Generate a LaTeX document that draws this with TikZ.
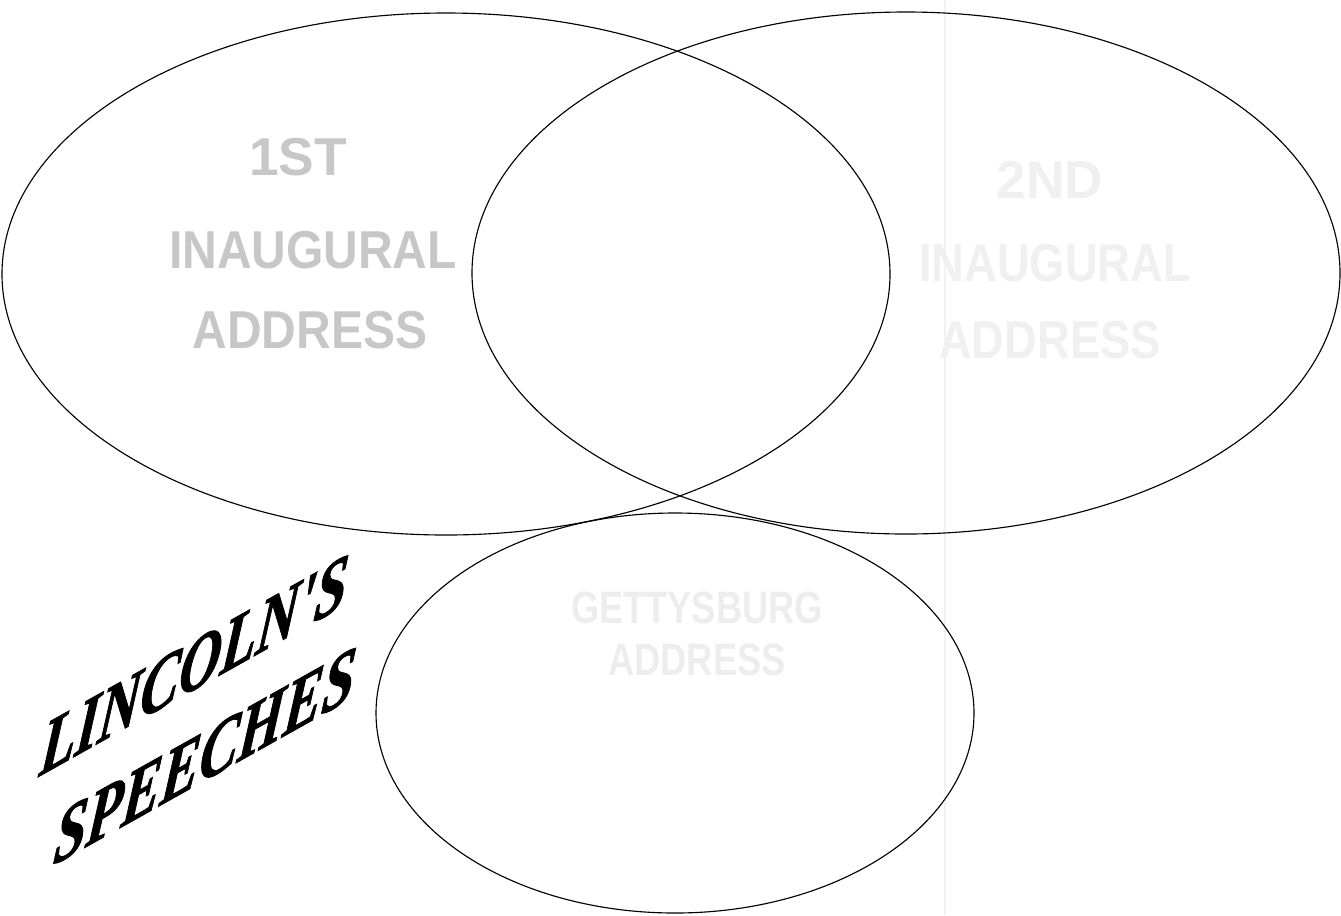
\documentclass[tikz,border=0pt]{standalone}
\usepackage{fontspec}
\setmainfont{Liberation Serif}
\newfontfamily\ghostfont{Liberation Sans}
\newfontfamily\titlefont{Liberation Serif}[BoldItalicFeatures={FakeBold=1.3}]
\begin{document}
\begin{tikzpicture}[x=0.75pt,y=-0.75pt,
  ring/.style={draw=black,line width=0.85pt},
  ghost/.style={font=\ghostfont\bfseries\fontsize{40}{40}\selectfont,inner sep=0pt},
  title/.style={font=\titlefont\bfseries\itshape\fontsize{44}{44}\selectfont,yslant=0.56,xslant=0.12,yscale=1.27,xscale=0.99,inner sep=0pt,anchor=base west}]
\useasboundingbox (0,0) rectangle (1341,915);
\fill[white] (0,0) rectangle (1341,915);
% faint scan fold line
\draw[black!5,line width=1pt] (945,0) -- (945,915);
% ellipses
\draw[ring] (446,274) ellipse [x radius=444, y radius=261];
\draw[ring] (906,273) ellipse [x radius=434, y radius=261];
\draw[ring] (675,713) ellipse [x radius=299, y radius=200];
% faded labels
\node[ghost,text=black!22] (l1) at (298,157) {1ST};
\node[ghost,text=black!22,xscale=0.9] (l2) at (313,250) {INAUGURAL};
\node[ghost,text=black!22,xscale=0.9] (l3) at (310,330) {ADDRESS};
\node[ghost,text=black!6] (r1) at (1050,180) {2ND};
\node[ghost,text=black!6,xscale=0.85] (r2) at (1055,263) {INAUGURAL};
\node[ghost,text=black!6,xscale=0.85] (r3) at (1050,340) {ADDRESS};
\node[ghost,text=black!7,font=\ghostfont\bfseries\fontsize{34}{34}\selectfont,xscale=0.8] (b1) at (697,608) {GETTYSBURG};
\node[ghost,text=black!7,font=\ghostfont\bfseries\fontsize{34}{34}\selectfont,xscale=0.8] (b2) at (697,660) {ADDRESS};
% title
\node[title] (t1) at (38,777) {LINCOLN\textquotesingle S};
\node[title] (t2) at (52,866) {SPEECHES};
\end{tikzpicture}
\end{document}
